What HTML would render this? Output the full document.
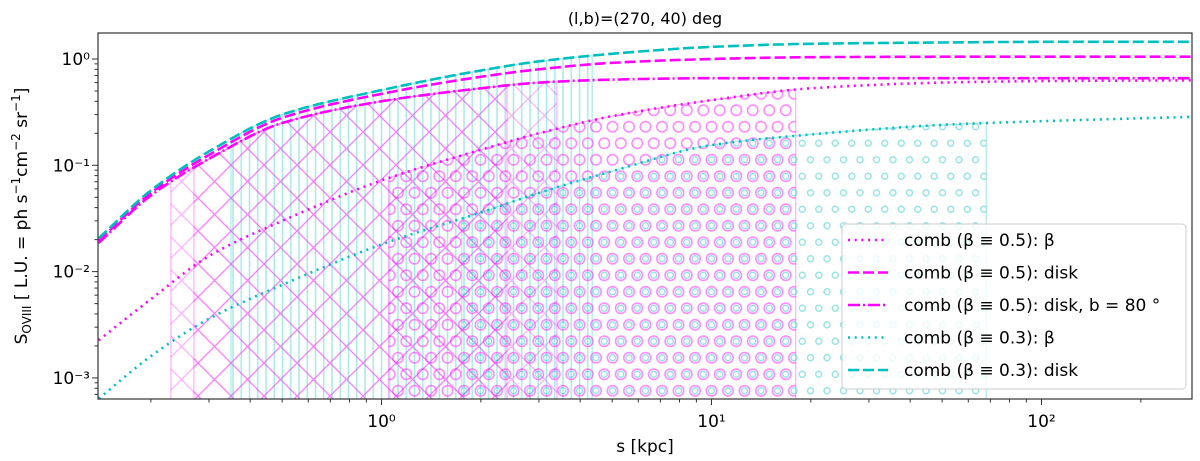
<!DOCTYPE html>
<html><head><meta charset="utf-8"><style>
body{margin:0;background:#fff;}
svg{display:block;font-family:"DejaVu Sans","Liberation Sans",sans-serif;}
</style></head><body>
<svg id="chart" width="1200" height="461" viewBox="0 0 1200 461">
<defs>
<clipPath id="plotclip"><rect x="98" y="33" width="1094" height="366"/></clipPath>
<pattern id="hx" patternUnits="userSpaceOnUse" width="33" height="33" x="0" y="0">
<path d="M0 0L33 33M33 0L0 33" stroke="#ff00ff" stroke-opacity="0.3" stroke-width="1.3" fill="none"/></pattern>
<pattern id="hv" patternUnits="userSpaceOnUse" width="8.25" height="10" x="0" y="0">
<path d="M2 0V10" stroke="#00bfbf" stroke-opacity="0.35" stroke-width="1.5"/></pattern>
<pattern id="ho" patternUnits="userSpaceOnUse" width="16.5" height="33" x="2" y="3">
<circle cx="8.25" cy="8.25" r="5.2" fill="none" stroke="#ff00ff" stroke-opacity="0.45" stroke-width="1.6"/>
<circle cx="0" cy="24.75" r="5.2" fill="none" stroke="#ff00ff" stroke-opacity="0.45" stroke-width="1.6"/>
<circle cx="16.5" cy="24.75" r="5.2" fill="none" stroke="#ff00ff" stroke-opacity="0.45" stroke-width="1.6"/></pattern>
<pattern id="hoc" patternUnits="userSpaceOnUse" width="16.5" height="33" x="2" y="3">
<circle cx="8.25" cy="8.25" r="3" fill="none" stroke="#00bfbf" stroke-opacity="0.4" stroke-width="1.5"/>
<circle cx="0" cy="24.75" r="3" fill="none" stroke="#00bfbf" stroke-opacity="0.4" stroke-width="1.5"/>
<circle cx="16.5" cy="24.75" r="3" fill="none" stroke="#00bfbf" stroke-opacity="0.4" stroke-width="1.5"/></pattern>
</defs>
<g id="regions" clip-path="url(#plotclip)"></g>
<g id="curves" clip-path="url(#plotclip)"></g>
<rect x="98" y="33" width="1094" height="366" fill="none" stroke="#333" stroke-width="1.2"/>
<g id="axes"></g>
<text x="645" y="24" text-anchor="middle" font-size="16" fill="#000">(l,b)=(270, 40) deg</text>
<text x="645" y="452" text-anchor="middle" font-size="17" fill="#000">s [kpc]</text>
<text transform="translate(27,216) rotate(-90)" text-anchor="middle" font-size="17" fill="#000">S<tspan font-size="12" dy="4">OVIII</tspan><tspan dy="-4"> [ L.U. = ph s</tspan><tspan font-size="12" dy="-7">−1</tspan><tspan dy="7">cm</tspan><tspan font-size="12" dy="-7">−2</tspan><tspan dy="7"> sr</tspan><tspan font-size="12" dy="-7">−1</tspan><tspan dy="7">]</tspan></text>
<g id="legend">
<rect x="842" y="224" width="344" height="165" rx="4" fill="#fff" fill-opacity="0.8" stroke="#ccc" stroke-width="1"/>
</g>
</svg>
<script>
const sGrid = [0.14,0.2,0.3,0.5,1,2,3,5,10,20,50,100,280];
const betaHalf = [0.0023,0.0055,0.014,0.03,0.072,0.14,0.2,0.29,0.41,0.53,0.6,0.62,0.63];
const diskHalf = [0.02,0.055,0.125,0.28,0.47,0.68,0.8,0.92,1.0,1.04,1.05,1.05,1.05];
const diskHalfB80 = [0.019,0.052,0.115,0.25,0.4,0.53,0.6,0.64,0.66,0.66,0.66,0.66,0.66];
const betaThird = [0.00065,0.0016,0.0036,0.0075,0.018,0.036,0.055,0.088,0.155,0.195,0.24,0.26,0.285];
const diskThird = [0.021,0.058,0.135,0.3,0.51,0.78,0.95,1.12,1.3,1.39,1.43,1.45,1.45];
const xTickLabels = ["10⁰","10¹","10²"];
const yTickLabels = ["10⁻³","10⁻²","10⁻¹","10⁰"];
const regionRanges = [[0.23,2.4],[0.27,3.4],[0.35,4.35],[1.05,18],[1.75,68]];

const NS="http://www.w3.org/2000/svg";
const X0=381.5, DX=330, Y0=59, DY=106.3, BOT=399;
function xs(v){return X0+DX*Math.log10(v);}
function ys(v){return Y0-DY*Math.log10(v);}
function interp(arr,s){
  const X=sGrid.map(Math.log10), Y=arr.map(Math.log10), n=X.length;
  const d=[]; for(let i=0;i<n-1;i++) d.push((Y[i+1]-Y[i])/(X[i+1]-X[i]));
  const m=[d[0]]; for(let i=1;i<n-1;i++){ m.push(d[i-1]*d[i]<=0?0:2/(1/d[i-1]+1/d[i])); } m.push(d[n-2]);
  const x=Math.log10(s);
  let i=0; while(i<n-2 && x>X[i+1]) i++;
  const h=X[i+1]-X[i], t=(x-X[i])/h;
  const h00=2*t*t*t-3*t*t+1,h10=t*t*t-2*t*t+t,h01=-2*t*t*t+3*t*t,h11=t*t*t-t*t;
  return Math.pow(10,h00*Y[i]+h10*h*m[i]+h01*Y[i+1]+h11*h*m[i+1]);
}
function mk(tag,attrs,parent){const e=document.createElementNS(NS,tag);for(const k in attrs)e.setAttribute(k,attrs[k]);parent.appendChild(e);return e;}
function curvePts(arr,s0,s1){const pts=[];const n=160;for(let i=0;i<=n;i++){const s=Math.pow(10,Math.log10(s0)+(Math.log10(s1)-Math.log10(s0))*i/n);pts.push([xs(s),ys(interp(arr,s))]);}return pts;}

const reg=document.getElementById('regions');
const regDefs=[[diskHalfB80,'hx','#ff00ff'],[diskHalfB80,'hx','#ff00ff'],[diskThird,'hv','#00bfbf'],[betaHalf,'ho','#ff00ff'],[betaThird,'hoc','#00bfbf']];
regionRanges.forEach((r,i)=>{
  const [arr,pat,col]=regDefs[i];
  const pts=curvePts(arr,r[0],r[1]);
  let d='M'+pts[0][0].toFixed(1)+' '+(BOT+5);
  pts.forEach(p=>d+='L'+p[0].toFixed(1)+' '+p[1].toFixed(1));
  d+='L'+pts[pts.length-1][0].toFixed(1)+' '+(BOT+5)+'Z';
  const p=mk('path',{d:d,fill:'url(#'+pat+')',stroke:col,'stroke-opacity':0.3,'stroke-width':1.3},reg);
  
  
});

const cv=document.getElementById('curves');
const series=[
 [betaHalf,'#ff00ff','2 4.7','comb (β ≡ 0.5): β','series-beta-05'],
 [diskHalf,'#ff00ff','11 4','comb (β ≡ 0.5): disk','series-disk-05'],
 [diskHalfB80,'#ff00ff','12 3 2 3','comb (β ≡ 0.5): disk, b = 80 °','series-disk-05-b80'],
 [betaThird,'#00bfbf','2 4.7','comb (β ≡ 0.3): β','series-beta-03'],
 [diskThird,'#00bfbf','11 4','comb (β ≡ 0.3): disk','series-disk-03']];
series.forEach(s=>{
  const pts=curvePts(s[0],0.139,290);
  const p=mk('polyline',{points:pts.map(q=>q[0].toFixed(1)+','+q[1].toFixed(1)).join(' '),fill:'none',stroke:s[1],'stroke-width':2.6,'stroke-dasharray':s[2]},cv);
  
  
});

const ax=document.getElementById('axes');
for(let e=-1;e<=2;e++){for(let m=1;m<10;m++){const v=m*Math.pow(10,e);const x=xs(v);if(x<98||x>1192)continue;
  const t=mk('line',{x1:x,x2:x,y1:BOT,y2:BOT+(m===1?6:3.5),stroke:'#333','stroke-width':1},ax);
  }}
xTickLabels.forEach((l,i)=>{const t=mk('text',{x:xs(Math.pow(10,i)),y:427,'text-anchor':'middle','font-size':17},ax);t.textContent=l;
  });
for(let e=-4;e<=0;e++){for(let m=1;m<10;m++){const v=m*Math.pow(10,e);const y=ys(v);if(y<33||y>399)continue;
  const t=mk('line',{x1:98,x2:98-(m===1?6:3.5),y1:y,y2:y,stroke:'#333','stroke-width':1},ax);
  }}
yTickLabels.forEach((l,i)=>{const t=mk('text',{x:90,y:ys(Math.pow(10,i-3))+6,'text-anchor':'end','font-size':17},ax);t.textContent=l;
  });

const lg=document.getElementById('legend');
series.forEach((s,i)=>{const y=240+32.5*i;
  const l=mk('line',{x1:848,x2:888,y1:y,y2:y,stroke:s[1],'stroke-width':2.6,'stroke-dasharray':s[2]},lg);
  
  const t=mk('text',{x:904,y:y+6,'font-size':17},lg);t.textContent=s[3];
  });
</script>
</body></html>
